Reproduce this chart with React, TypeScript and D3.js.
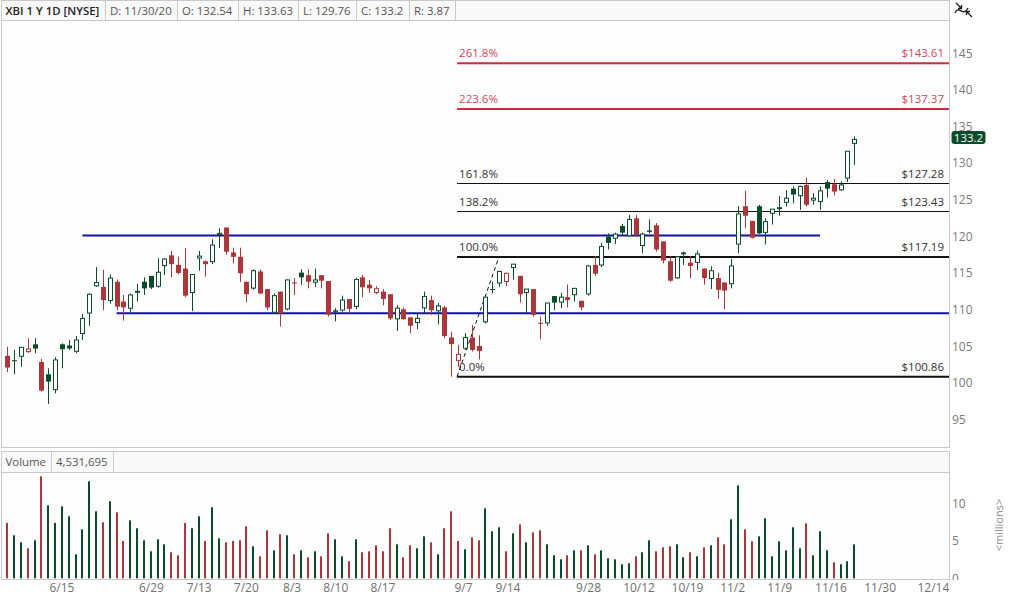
import { useEffect, useRef } from "react"
import * as d3 from "d3"

// daily OHLC, oldest first (last bar = 11/30/20)
const opens = [
  103.7, 103.1, 103.5, 104.14, 105.27, 102.86, 101.18, 98.95, 105.27, 105.1,
  104.18, 106.6, 109.4, 113.1, 113.1, 111.1, 113.8, 111.1, 110.05, 112.55,
  113.8, 114.6, 113.05, 115.86, 117.4, 116.1, 115.6, 112.2, 116.9, 116.6,
  116.4, 120.1, 121.2, 117.8, 117.2, 113.8, 112.8, 115.2, 112.8, 109.5,
  112.45, 109.95, 113.7, 115.05, 114.7, 113.6, 114.7, 113.9, 109.9, 109.8,
  111.45, 110.3, 114.4, 113.4, 112.2, 112.45, 112.1, 108.6, 110.05, 108.95,
  108.1, 110.1, 111.3, 109.7, 110.3, 106.2, 102.9, 104.6, 106.2, 105.05,
  108.2, 112.8, 113.5, 113.7, 115.6, 114.6, 112.2, 112.8, 108.2, 108.05,
  111.85, 110.9, 111.7, 111.9, 111.2, 112, 116.1, 115.95, 119.95, 119.6,
  121.4, 119.95, 122.45, 118.6, 120.8, 121.5, 119.3, 116.6, 114.2, 117.8,
  116.4, 116.3, 115.6, 114.1, 114.3, 113.7, 113.4, 118.8, 124.1, 122.1,
  124.1, 120.4, 123, 123.8, 124.5, 126.5, 125.4, 127, 124.8, 124.6,
  127.4, 127.1, 126.2, 127.8, 132.54,
]
const highs = [
  104.95, 104.5, 104.9, 106.1, 106.1, 103.27, 102, 103.5, 105.4, 105.86,
  106.4, 109.4, 112.2, 115.8, 115.4, 114.8, 114.1, 112, 112.2, 113.5,
  114.4, 114.6, 117, 117, 118, 117.2, 118.4, 114.8, 118, 116.7,
  119.6, 121.1, 121.2, 118.45, 118.45, 113.8, 115.5, 115.5, 112.8, 112.2,
  112.45, 114.1, 114.3, 115.5, 115.5, 115.6, 114.7, 113.9, 110.2, 111.9,
  111.45, 114.3, 114.7, 114.05, 113.2, 112.8, 112.1, 110.6, 110.3, 108.95,
  109.4, 112.45, 111.9, 110.9, 110.5, 107, 105.2, 106.8, 107.9, 106.5,
  111.7, 113.8, 115.3, 115.05, 116.2, 114.6, 112.8, 112.8, 109.05, 110.95,
  111.85, 112.3, 113.4, 112.9, 111.2, 116.1, 117.3, 119.1, 120.4, 120.5,
  121.7, 122.9, 122.9, 120.5, 122.3, 121.8, 119.3, 117.3, 117.3, 117.9,
  117.3, 118.05, 115.6, 115.9, 115.05, 113.7, 116.9, 124.1, 126.2, 122.1,
  124.3, 122.45, 123.7, 125.5, 126.3, 126.8, 126.9, 128, 125.9, 126.8,
  127.7, 127.8, 127.5, 131.6, 133.63,
]
const lows = [
  101.5, 101.2, 102.2, 104.1, 104.05, 98.8, 97.14, 98.6, 102, 104.5,
  104.05, 105.86, 107.8, 113.1, 109.9, 110.8, 109.9, 108.5, 109.6, 111.1,
  112, 112.8, 113, 114.7, 114.4, 114.8, 111.7, 109.8, 115.3, 114.5,
  116.2, 118.4, 117.5, 116.3, 113.8, 111, 112.7, 112.1, 109.95, 109.4,
  107.7, 109.9, 112, 113.4, 112.9, 113.1, 112.9, 109.05, 108.4, 109.7,
  109.5, 110.05, 111.7, 112.3, 112.1, 110.6, 108.6, 107.1, 108.6, 106.8,
  107.3, 109.5, 109.3, 108, 106.1, 100.86, 102.2, 104.5, 104.3, 103.2,
  108.1, 112.2, 113.1, 113.2, 114.1, 110.95, 109.5, 109.05, 105.95, 107.8,
  109.95, 110.2, 110.3, 111.1, 109.9, 111.9, 114.6, 115.8, 118.2, 118.95,
  120.05, 119.95, 119.95, 117.7, 120.4, 117.9, 116.3, 113.8, 114.2, 116.1,
  114.3, 115.4, 113.4, 112.8, 111.5, 110.05, 112.9, 117.7, 121.1, 119.7,
  120.3, 118.9, 121.6, 122.8, 124.05, 124.5, 123.6, 124.05, 124.3, 123.6,
  125.3, 125.6, 126.2, 127.4, 129.76,
]
const closes = [
  102.1, 102.95, 104.86, 104.64, 104.68, 98.95, 100.18, 103.14, 104.6, 104.7,
  105.86, 108.8, 112.1, 113.7, 111.3, 114.3, 110.4, 110.3, 112, 112.3,
  112.9, 113.0, 115.1, 116.9, 116.2, 115, 111.9, 114.8, 117.3, 116.2,
  118.8, 120.4, 117.9, 117.2, 114.95, 112.1, 115.3, 112.2, 110.3, 111.9,
  109.5, 114.05, 113.6, 114.4, 113.8, 114.05, 113.95, 109.3, 109.7, 111.3,
  110.1, 114.1, 113.05, 112.9, 112.85, 111.45, 108.8, 110.2, 108.7, 107.8,
  108.8, 111.8, 109.9, 110.5, 106.4, 105.3, 103.9, 106.2, 104.5, 104.35,
  111.7, 112.7, 115.2, 114.95, 116.2, 112.1, 112.8, 109.3, 108.1, 110.9,
  110.95, 111.7, 111.3, 112.9, 110.3, 115.95, 114.9, 118.6, 119.1, 120.3,
  120.5, 122.3, 120.2, 120.3, 120.6, 118.2, 116.7, 113.95, 117.2, 117.55,
  115.95, 117.6, 114.3, 115.3, 112.7, 112.6, 115.95, 123.05, 122.8, 119.8,
  120.4, 122, 123.7, 123.9, 125.2, 125.7, 126.8, 124.3, 125.2, 126.2,
  126.5, 126.1, 127, 131.6, 133.2,
]
// volume in millions
const volumes = [
  7.38, 5.73, 4.8, 4.0, 5.07, 13.6, 9.73, 7.38, 9.6, 8.27,
  3.2, 6.53, 12.93, 8.93, 7.47, 10.27, 8.8, 4.98, 7.73, 6.67,
  5.07, 3.6, 5.2, 4.53, 3.47, 3.07, 7.38, 6.67, 8.27, 4.98,
  9.47, 5.33, 4.8, 4.98, 5.07, 6.93, 4.27, 2.93, 6.4, 3.73,
  5.87, 5.73, 3.2, 3.73, 2.8, 3.6, 2.93, 6.0, 5.2, 2.93,
  2.27, 5.2, 3.47, 3.6, 4.4, 3.6, 6.67, 4.53, 2.8, 4.4,
  4.0, 5.6, 4.8, 3.2, 6.67, 8.93, 4.98, 3.87, 5.47, 5.07,
  9.33, 6.27, 6.8, 3.6, 6.0, 7.2, 4.8, 6.13, 6.4, 4.53,
  3.07, 2.53, 3.07, 3.73, 3.73, 4.4, 3.2, 3.73, 2.67, 2.53,
  1.87, 2.0, 2.93, 3.47, 5.07, 3.6, 4.13, 4.27, 4.53, 2.8,
  3.47, 2.93, 4.13, 4.4, 5.47, 4.53, 7.87, 12.4, 6.53, 4.93,
  5.6, 8.0, 2.93, 4.93, 3.73, 6.8, 4.0, 7.33, 3.07, 6.27,
  3.73, 2.13, 1.87, 2.27, 4.53,
]

const priceTicks = [95, 100, 105, 110, 115, 120, 125, 130, 135, 140, 145]
const volumeTicks = [0, 5, 10]

// date labels and the bar slot they sit over
const dateLabels = ["6/15", "6/29", "7/13", "7/20", "8/3", "8/10", "8/17", "9/7", "9/14", "9/28", "10/12", "10/19", "11/2", "11/9", "11/16", "11/30", "12/14"]
const dateSlots = [8.0, 21.1, 28.1, 35.0, 41.7, 48.1, 55.0, 66.8, 73.3, 85.1, 92.5, 99.6, 106.2, 113.1, 120.6, 127.8, 135.6]

// fibonacci extension drawn from the 9/8 low to the 9/15 high
const fibPercents = ["261.8%", "223.6%", "161.8%", "138.2%", "100.0%", "0.0%"]
const fibPrices = [143.61, 137.37, 127.28, 123.43, 117.19, 100.86]
const fibLowSlot = 66
const fibHighSlot = 72

// hand drawn support / resistance lines
const trendPrices = [120.1, 109.5]
const trendFrom = [11, 16]
const trendTo = [119, 138]

const headerCells = ["XBI 1 Y 1D [NYSE]", "D: 11/30/20", "O: 132.54", "H: 133.63", "L: 129.76", "C: 133.2", "R: 3.87"]
const volumeCells = ["Volume", "4,531,695"]
const lastPrice = 133.2

const GREEN = "#0c4b2a"
const RED = "#ad363b"
const BLUE = "#1212a3"
const FIB_RED = "#d7263f"
const BORDER = "#c9c9c9"
const FONT = "'Open Sans', 'Noto Sans', sans-serif"

const App = () => {
  const svgRef = useRef<SVGSVGElement | null>(null)

  useEffect(() => {
    document.body.style.margin = "0"
    if (!svgRef.current) return
    const svg = d3.select(svgRef.current)
    svg.selectAll("*").remove()

    const left = 1
    const right = 949
    const main = { top: 0.5, head: 20.5, bottom: 447.5 }
    const vol = { top: 451.5, head: 472.5, bottom: 579.5 }

    const x = d3.scaleLinear().domain([0, closes.length - 1]).range([7.3, 854.2])
    const y = d3.scaleLinear().domain([95, 145]).range([419.6, 53])
    const yv = d3.scaleLinear().domain([0, 10]).range([578.3, 503.3])

    svg.append("rect").attr("width", 1011).attr("height", 597).attr("fill", "#fff")

    // panel frames
    const drawPanel = (top: number, head: number, bottom: number, cells: string[], boldFirst: boolean) => {
      svg.append("rect")
        .attr("x", left + 0.5).attr("y", top)
        .attr("width", right - left).attr("height", bottom - top)
        .attr("fill", "#fdfdfd").attr("stroke", BORDER)
      svg.append("rect")
        .attr("x", left + 0.5).attr("y", top)
        .attr("width", right - left).attr("height", head - top)
        .attr("fill", "#f9f9f9").attr("stroke", BORDER)
      let cx = left
      cells.forEach((c, i) => {
        const t = svg.append("text")
          .attr("x", cx + 4.5).attr("y", (top + head) / 2 + 4)
          .attr("font-family", FONT).attr("font-size", 11.4)
          .attr("font-weight", boldFirst && i === 0 ? 600 : 400)
          .attr("fill", boldFirst && i === 0 ? "#222" : "#555")
          .text(c)
        const w = (t.node() as SVGTextElement).getComputedTextLength()
        cx = Math.round(cx + w + 10) + 0.5
        svg.append("line")
          .attr("x1", cx).attr("x2", cx).attr("y1", top).attr("y2", head)
          .attr("stroke", BORDER)
      })
    }
    drawPanel(main.top, main.head, main.bottom, headerCells, true)
    drawPanel(vol.top, vol.head, vol.bottom, volumeCells, false)

    const colorOf = (i: number) => {
      const ref = i === 0 ? opens[0] : closes[i - 1]
      return closes[i] >= ref ? GREEN : RED
    }

    // support / resistance
    trendPrices.forEach((p, i) => {
      svg.append("line")
        .attr("x1", x(trendFrom[i])).attr("x2", Math.min(x(trendTo[i]), right))
        .attr("y1", y(p)).attr("y2", y(p))
        .attr("stroke", BLUE).attr("stroke-width", 2)
    })

    // fib levels
    const fibX0 = x(fibLowSlot) - 1
    fibPrices.forEach((p, i) => {
      const pct = parseFloat(fibPercents[i])
      const isRed = pct > 200
      const thick = isRed || pct === 100 || pct === 0
      const ly = thick ? y(p) : Math.round(y(p)) + 0.5
      svg.append("line")
        .attr("x1", fibX0).attr("x2", right)
        .attr("y1", ly).attr("y2", ly)
        .attr("stroke", isRed ? FIB_RED : "#111")
        .attr("stroke-width", thick ? 2 : 1)
      const tColor = isRed ? "#d2475a" : "#333"
      svg.append("text")
        .attr("x", fibX0 + 2).attr("y", ly - 6)
        .attr("font-family", FONT).attr("font-size", 11.5).attr("fill", tColor)
        .text(fibPercents[i])
      svg.append("text")
        .attr("x", right - 5).attr("y", ly - 6).attr("text-anchor", "end")
        .attr("font-family", FONT).attr("font-size", 11.5).attr("fill", tColor)
        .text(`$${p.toFixed(2)}`)
    })
    svg.append("line")
      .attr("x1", x(fibLowSlot) - 1).attr("y1", y(fibPrices[5]))
      .attr("x2", x(fibHighSlot)).attr("y2", y(fibPrices[4]))
      .attr("stroke", "#111").attr("stroke-width", 1).attr("stroke-dasharray", "4,3")

    // candles
    const candles = svg.append("g")
    closes.forEach((c, i) => {
      const o = opens[i]
      const col = colorOf(i)
      const cx = Math.round(x(i)) + 0.5
      candles.append("line")
        .attr("x1", cx).attr("x2", cx)
        .attr("y1", y(highs[i])).attr("y2", y(lows[i]))
        .attr("stroke", col).attr("stroke-width", 1)
      const top = y(Math.max(o, c))
      const h = Math.max(1, y(Math.min(o, c)) - top)
      if (c > o) {
        candles.append("rect")
          .attr("x", cx - 2).attr("y", top).attr("width", 4).attr("height", Math.max(1, h - 1))
          .attr("fill", "#fff").attr("stroke", col).attr("stroke-width", 1)
      } else {
        candles.append("rect")
          .attr("x", cx - 2.5).attr("y", top).attr("width", 5).attr("height", h)
          .attr("fill", col)
      }
    })

    // volume bars
    svg.append("g").selectAll("rect")
      .data(volumes)
      .join("rect")
      .attr("x", (_, i) => Math.round(x(i)) - 1)
      .attr("y", (d) => yv(d))
      .attr("width", 2)
      .attr("height", (d) => yv(0) - yv(d))
      .attr("fill", (_, i) => colorOf(i))

    // right axes
    svg.append("g").selectAll("text")
      .data(priceTicks)
      .join("text")
      .attr("x", 952).attr("y", (d) => y(d) + 4.5)
      .attr("font-family", FONT).attr("font-size", 12).attr("fill", "#7a7a7a")
      .text((d) => d)
    svg.append("g").selectAll("text")
      .data(volumeTicks)
      .join("text")
      .attr("x", 952).attr("y", (d) => yv(d) + 4.5)
      .attr("font-family", FONT).attr("font-size", 12).attr("fill", "#7a7a7a")
      .text((d) => d)
    svg.append("rect").attr("x", 950).attr("y", 580).attr("width", 61).attr("height", 17).attr("fill", "#fff")
    svg.append("text")
      .attr("transform", "translate(1003,525) rotate(-90)")
      .attr("text-anchor", "middle")
      .attr("font-family", FONT).attr("font-size", 11).attr("fill", "#8a8a8a")
      .text("<millions>")

    // last price tag
    const py = y(lastPrice)
    svg.append("rect")
      .attr("x", 951.5).attr("y", py - 8.5).attr("width", 34).attr("height", 13).attr("rx", 3)
      .attr("fill", GREEN)
    svg.append("text")
      .attr("x", 968.5).attr("y", py + 2.3).attr("text-anchor", "middle")
      .attr("font-family", FONT).attr("font-size", 11.5).attr("fill", "#fff")
      .text(lastPrice)

    // date labels
    svg.append("g").selectAll("text")
      .data(dateLabels)
      .join("text")
      .attr("x", (_, i) => x(dateSlots[i]))
      .attr("y", 592)
      .attr("text-anchor", "middle")
      .attr("font-family", FONT).attr("font-size", 12).attr("fill", "#6f6f6f")
      .text((d) => d)

    // toolbar glyph
    const icon = svg.append("g").attr("stroke", "#222").attr("fill", "none").attr("stroke-width", 1.4)
    icon.append("path").attr("d", "M955,13 C959,4 963,18 968,8")
    icon.append("path").attr("d", "M956,3 L961.5,8.5 M961.5,5 L961.5,8.5 L958,8.5")
    icon.append("path").attr("d", "M972,17 L966.5,11.5 M966.5,15 L966.5,11.5 L970,11.5")
  }, [])

  return <svg ref={svgRef} width={1011} height={597} style={{ display: "block" }} />
}

export default App
